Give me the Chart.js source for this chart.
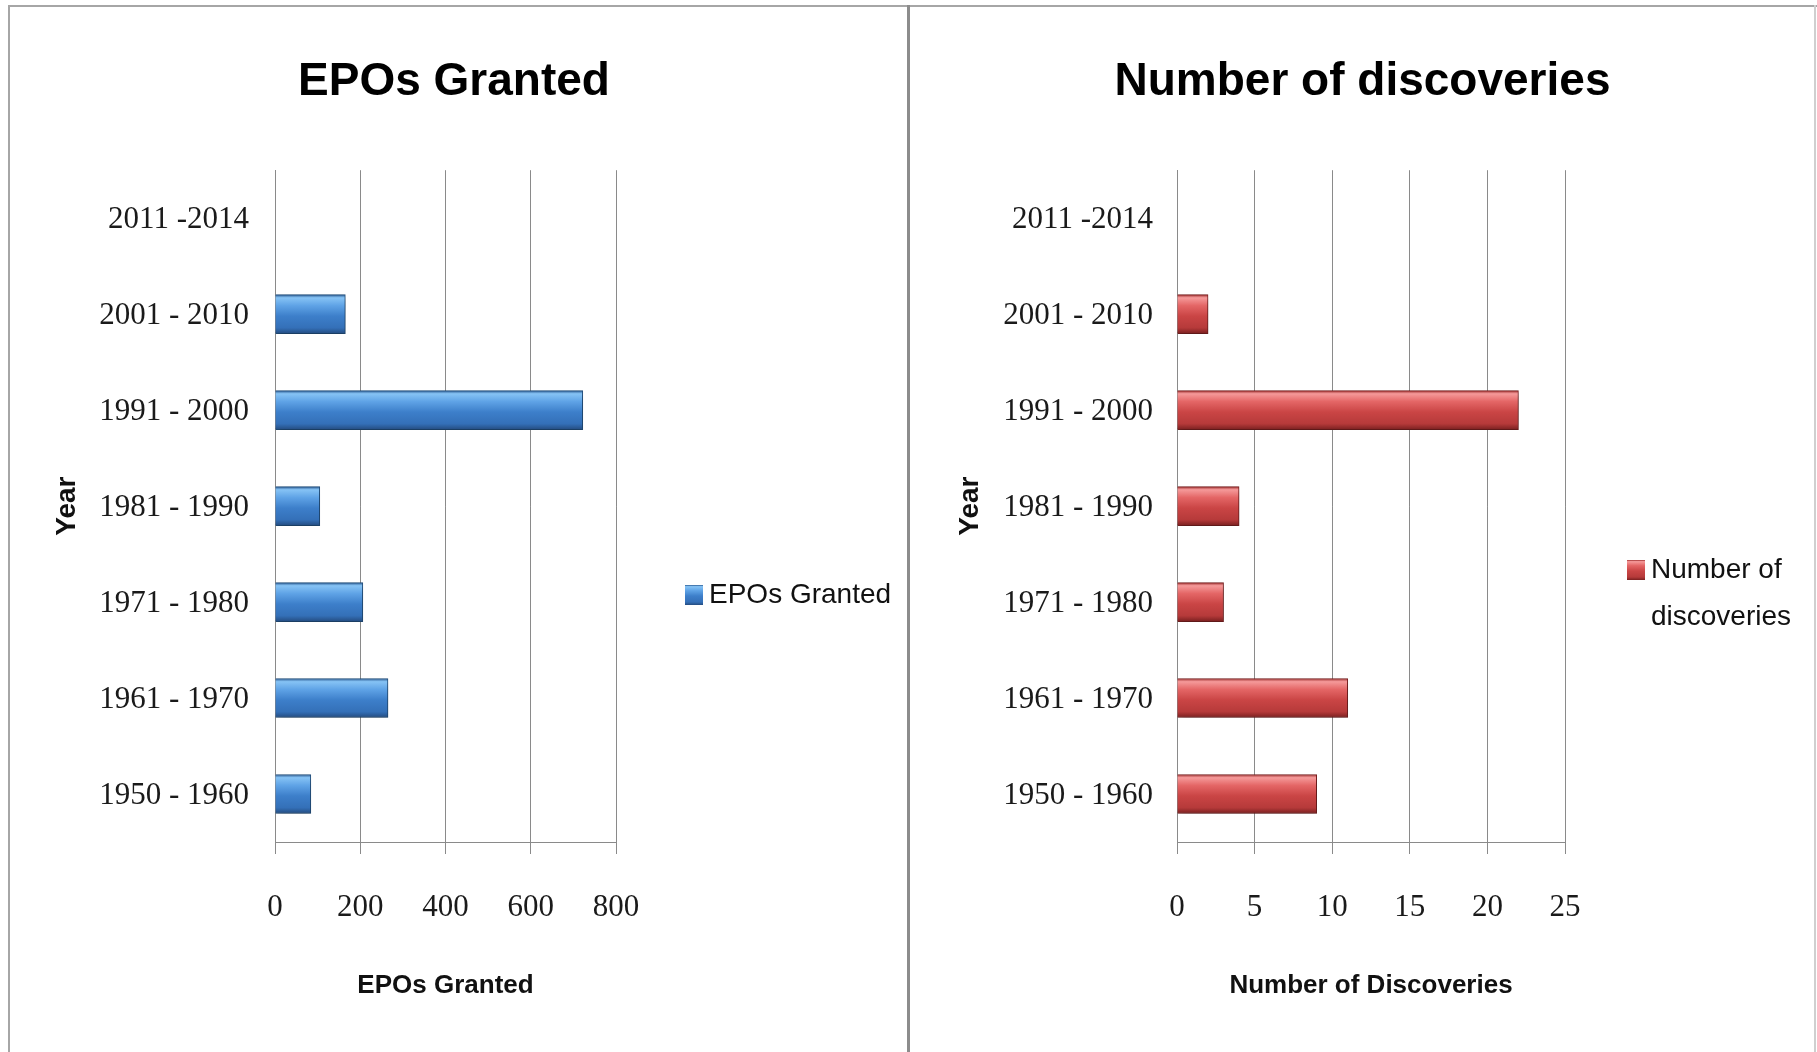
<!DOCTYPE html>
<html>
<head>
<meta charset="utf-8">
<title>EPOs Granted / Number of discoveries</title>
<script src="https://cdn.jsdelivr.net/npm/chart.js@4.4.0/dist/chart.umd.min.js"></script>
<style>
  html, body { margin: 0; padding: 0; background: #fff; }
  #wrap { position: relative; width: 1817px; height: 1052px; overflow: hidden; background: #fff; }
  .panel { position: absolute; top: 0; height: 1052px; }
  .line { position: absolute; }
  canvas { display: block; }
</style>
</head>
<body>
<div id="wrap">
  <div class="panel" style="left:0;width:908px"><canvas id="epoChart"></canvas></div>
  <div class="panel" style="left:908px;width:909px"><canvas id="discChart"></canvas></div>
  <!-- panel frames -->
  <div class="line" style="left:8px;top:5px;width:1809px;height:2px;background:#a6a6a6"></div>
  <div class="line" style="left:8px;top:5px;width:2px;height:1047px;background:#a6a6a6"></div>
  <div class="line" style="left:907px;top:5px;width:3px;height:1047px;background:#8c8c8c"></div>
  <div class="line" style="left:1814px;top:5px;width:2px;height:1047px;background:#cfcfcf"></div>
</div>

<script>
// ---- data ----
const periods = ['2011 -2014', '2001 - 2010', '1991 - 2000', '1981 - 1990', '1971 - 1980', '1961 - 1970', '1950 - 1960'];
const eposGranted = [0, 165, 722, 105, 206, 265, 84];
const discoveries = [0, 2, 22, 4, 3, 11, 9];
const eposTicks = [0, 200, 400, 600, 800];
const discTicks = [0, 5, 10, 15, 20, 25];
const eposLegend = ['EPOs Granted'];
const discLegend = ['Number of', 'discoveries'];

// ---- look ----
const BAR_H = 39;
const GRID = '#8a8a8a';
const SANS = '"Liberation Sans", Arial, sans-serif';
const SERIF = '"Liberation Serif", "Times New Roman", serif';

const blueStops = [[0, '#2a5a92'], [0.08, '#86c3f5'], [0.28, '#5fa3e6'], [0.55, '#3d7fca'], [0.85, '#3470b8'], [1, '#244c80']];
const redStops  = [[0, '#a02f2f'], [0.08, '#f59a9a'], [0.28, '#e46666'], [0.55, '#ca4545'], [0.85, '#b63a3a'], [1, '#7a2020']];

// vertical gloss per bar, placed from the category scale
const glossy = (stops) => (c) => {
  const ys = c.chart.scales && c.chart.scales.y;
  if (!ys || c.dataIndex === undefined) return stops[3][1];
  const cy = ys.getPixelForValue(c.dataIndex);
  if (!isFinite(cy)) return stops[3][1];
  const g = c.chart.ctx.createLinearGradient(0, cy - BAR_H / 2, 0, cy + BAR_H / 2);
  stops.forEach(s => g.addColorStop(s[0], s[1]));
  return g;
};

// soft drop shadow under the bars
const barShadow = {
  id: 'barShadow',
  beforeDatasetsDraw(chart) {
    const ctx = chart.ctx;
    ctx.save();
    ctx.shadowColor = 'rgba(0,0,0,0.28)';
    ctx.shadowBlur = 8;
    ctx.shadowOffsetX = 2;
    ctx.shadowOffsetY = 4;
  },
  afterDatasetsDraw(chart) { chart.ctx.restore(); }
};

// legend drawn at the side like the office chart
const sideLegend = {
  id: 'sideLegend',
  afterDraw(chart, args, o) {
    const ctx = chart.ctx;
    ctx.save();
    const g = ctx.createLinearGradient(0, o.y - 10, 0, o.y + 10);
    o.stops.forEach(s => g.addColorStop(s[0], s[1]));
    ctx.fillStyle = g;
    ctx.fillRect(o.x, o.y - 10, 18, 20);
    ctx.font = '28px ' + SANS;
    ctx.fillStyle = '#111';
    ctx.textBaseline = 'middle';
    ctx.textAlign = 'left';
    o.lines.forEach((t, i) => ctx.fillText(t, o.x + 24, o.y + i * 47));
    ctx.restore();
  }
};

function makeChart(id, cfg) {
  return new Chart(document.getElementById(id), {
    type: 'bar',
    data: {
      labels: periods,
      datasets: [{
        label: cfg.label,
        data: cfg.values,
        backgroundColor: glossy(cfg.stops),
        borderColor: cfg.edge,
        borderWidth: 1,
        barThickness: BAR_H
      }]
    },
    options: {
      indexAxis: 'y',
      responsive: true,
      maintainAspectRatio: false,
      animation: false,
      layout: { padding: 0 },
      plugins: {
        legend: { display: false },
        tooltip: { enabled: false },
        title: {
          display: true,
          text: cfg.title,
          color: '#000',
          font: { family: SANS, size: 46, weight: 'bold', lineHeight: 1.2 },
          padding: { top: 55, bottom: 60 }
        },
        sideLegend: { x: cfg.legendX, y: cfg.legendY, lines: cfg.legend, stops: cfg.stops }
      },
      scales: {
        x: {
          position: 'bottom',
          min: cfg.ticks[0],
          max: cfg.ticks[cfg.ticks.length - 1],
          afterBuildTicks: (s) => { s.ticks = cfg.ticks.map(v => ({ value: v })); },
          afterFit: (s) => { s.height = 210; },
          grid: { color: GRID, lineWidth: 1, drawTicks: true, tickLength: 12, tickColor: GRID },
          border: { display: true, color: GRID, width: 1 },
          ticks: { color: '#1a1a1a', padding: 35, font: { family: SERIF, size: 31 } },
          title: {
            display: true,
            text: cfg.axisTitle,
            color: '#111',
            font: { family: SANS, size: 26, weight: 'bold', lineHeight: 1.2 },
            padding: { top: 0, bottom: 51 }
          }
        },
        y: {
          position: 'left',
          afterFit: (s) => { s.width = cfg.axisLeft; },
          grid: { display: false, drawTicks: false },
          border: { display: true, color: GRID, width: 1 },
          ticks: { color: '#1a1a1a', padding: cfg.labelPad, labelOffset: 2, font: { family: SERIF, size: 31 } },
          title: {
            display: true,
            text: 'Year',
            color: '#111',
            font: { family: SANS, size: 28, weight: 'bold', lineHeight: 1.2 },
            padding: { top: cfg.yearPad, bottom: 0 }
          }
        },
        // empty right-hand space that holds the legend
        side: {
          type: 'linear',
          position: 'right',
          display: true,
          afterFit: (s) => { s.width = cfg.sideWidth; },
          grid: { display: false, drawTicks: false },
          border: { display: false },
          ticks: { display: false }
        }
      }
    },
    plugins: [barShadow, sideLegend]
  });
}

makeChart('epoChart', {
  label: 'EPOs Granted', title: 'EPOs Granted', axisTitle: 'EPOs Granted',
  values: eposGranted, ticks: eposTicks, legend: eposLegend,
  stops: blueStops, edge: '#22507f',
  axisLeft: 275, sideWidth: 292, labelPad: 26, yearPad: 50,
  legendX: 685, legendY: 595
});

makeChart('discChart', {
  label: 'Number of discoveries', title: 'Number of discoveries', axisTitle: 'Number of Discoveries',
  values: discoveries, ticks: discTicks, legend: discLegend,
  stops: redStops, edge: '#7a2020',
  axisLeft: 269, sideWidth: 252, labelPad: 24, yearPad: 45,
  legendX: 719, legendY: 570
});
</script>
</body>
</html>
